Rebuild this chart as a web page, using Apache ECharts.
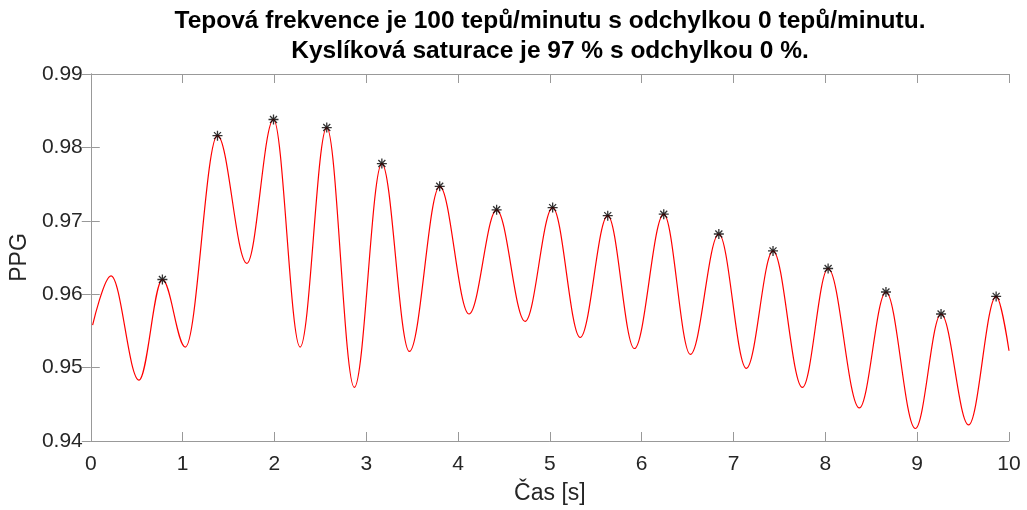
<!DOCTYPE html>
<html>
<head>
<meta charset="utf-8">
<script src="https://cdn.jsdelivr.net/npm/echarts@6/dist/echarts.min.js"></script>
<style>
html,body{margin:0;padding:0;background:#fff;}
#chart{width:1027px;height:510px;}
</style>
</head>
<body>
<div id="chart"></div>
<script>
// ---- data ----
const titleLines = [
  'Tepová frekvence je 100 tepů/minutu s odchylkou 0 tepů/minutu.',
  'Kyslíková saturace je 97 % s odchylkou 0 %.'
];
const xName = 'Čas [s]';
const yName = 'PPG';
const xTicks = [0, 1, 2, 3, 4, 5, 6, 7, 8, 9, 10];
const yTicks = [0.94, 0.95, 0.96, 0.97, 0.98, 0.99];

// detected peaks (marked with *)
const peakTimes  = [0.78, 1.38, 1.99, 2.57, 3.17, 3.80, 4.42, 5.03, 5.63, 6.24, 6.84, 7.43, 8.03, 8.66, 9.26, 9.86];
const peakValues = [0.9620, 0.9816, 0.9838, 0.9827, 0.9778, 0.9747, 0.9715, 0.9718, 0.9707, 0.9709, 0.9682, 0.9659, 0.9635, 0.9603, 0.9573, 0.9597];

// troughs of the PPG waveform
const troughTimes  = [0.525, 1.03, 1.70, 2.28, 2.87, 3.47, 4.12, 4.73, 5.33, 5.92, 6.53, 7.14, 7.75, 8.37, 8.98, 9.56];
const troughValues = [0.9483, 0.9528, 0.9642, 0.9528, 0.9473, 0.9522, 0.9573, 0.9563, 0.9541, 0.9526, 0.9518, 0.9499, 0.9473, 0.9445, 0.9417, 0.9422];

// other points of the waveform: start, unmarked first peak, end
const otherTimes  = [0.02, 0.22, 10];
const otherValues = [0.9558, 0.9625, 0.9523];

// ---- build series ----
const curve = [];
peakTimes.forEach((t, i) => curve.push([t, peakValues[i]]));
troughTimes.forEach((t, i) => curve.push([t, troughValues[i]]));
otherTimes.forEach((t, i) => curve.push([t, otherValues[i]]));
curve.sort((a, b) => a[0] - b[0]);
const peaks = peakTimes.map((t, i) => [t, peakValues[i]]);

const FONT = '"Liberation Sans", Arial, Helvetica, sans-serif';
const AXIS_COLOR = '#999999';
const TEXT_COLOR = '#262626';

const chart = echarts.init(document.getElementById('chart'), null, {renderer: 'canvas'});

function xAxisDef(pos, labels) {
  return {
    type: 'value', position: pos, min: xTicks[0], max: xTicks[xTicks.length - 1], interval: 1,
    name: labels ? xName : '', nameLocation: 'middle', nameGap: 41,
    nameTextStyle: {fontFamily: FONT, fontSize: 23, color: TEXT_COLOR},
    axisLine: {show: true, lineStyle: {color: AXIS_COLOR, width: 1}},
    axisTick: {show: true, inside: true, length: 9, lineStyle: {color: AXIS_COLOR}},
    axisLabel: {show: labels, fontFamily: FONT, fontSize: 21, color: TEXT_COLOR, margin: 13,
      formatter: v => String(Math.round(v))},
    splitLine: {show: false}
  };
}
function yAxisDef(pos, labels) {
  return {
    type: 'value', position: pos, min: yTicks[0], max: yTicks[yTicks.length - 1], interval: 0.01,
    name: labels ? yName : '', nameLocation: 'middle', nameGap: 55,
    nameTextStyle: {fontFamily: FONT, fontSize: 23, color: TEXT_COLOR},
    axisLine: {show: true, lineStyle: {color: AXIS_COLOR, width: 1}},
    axisTick: {show: true, inside: true, length: 9, lineStyle: {color: AXIS_COLOR}},
    axisLabel: {show: labels, fontFamily: FONT, fontSize: 21, color: TEXT_COLOR, margin: 8,
      formatter: v => v.toFixed(2)},
    splitLine: {show: false}
  };
}

chart.setOption({
  animation: false,
  backgroundColor: '#ffffff',
  grid: {left: 89, right: 18, top: 74, bottom: 66, containLabel: false},
  graphic: [
    {type: 'text', x: 550, y: 21, style: {text: titleLines[0], font: 'bold 24.5px ' + FONT, fill: '#000', align: 'center', verticalAlign: 'middle'}},
    {type: 'text', x: 550, y: 51.5, style: {text: titleLines[1], font: 'bold 24.5px ' + FONT, fill: '#000', align: 'center', verticalAlign: 'middle'}}
  ],
  xAxis: [xAxisDef('bottom', true), xAxisDef('top', false)],
  yAxis: [yAxisDef('left', true), yAxisDef('right', false)],
  series: [
    {
      type: 'line', xAxisIndex: 0, yAxisIndex: 0, data: curve,
      showSymbol: false, smooth: 0.36, smoothMonotone: 'x',
      lineStyle: {color: '#ff0000', width: 1.2}, z: 2
    },
    {
      type: 'scatter', xAxisIndex: 0, yAxisIndex: 0, data: peaks,
      symbol: 'path://M5,0L5,10M0,5L10,5M1.5,1.5L8.5,8.5M1.5,8.5L8.5,1.5',
      symbolSize: 10,
      itemStyle: {color: 'rgba(0,0,0,0)', borderColor: '#000000', borderWidth: 1.3},
      z: 3
    }
  ]
});
</script>
</body>
</html>
